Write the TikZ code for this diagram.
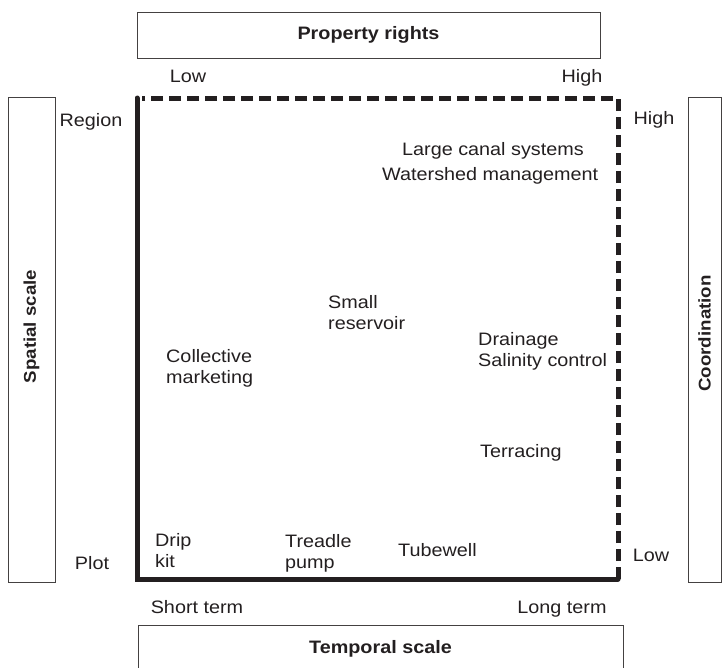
\documentclass[tikz,border=0pt]{standalone}
\usepackage{fontspec}
\setmainfont[FakeStretch=1.1]{Liberation Sans}
\definecolor{ink}{HTML}{231F20}
\begin{document}
\begin{tikzpicture}[x=1pt,y=-1pt,
  lab/.style={inner sep=0pt, text=ink, font=\fontsize{18}{21}\selectfont, align=left},
  titlebox/.style={draw=ink!85, line width=0.9pt, inner sep=0pt, text=ink,
     font=\bfseries\fontsize{18}{21}\selectfont},
  sidebox/.style={draw=ink!85, line width=0.9pt, inner sep=0pt},
  sidelab/.style={inner sep=0pt, text=ink, rotate=90, font=\bfseries\fontsize{17}{20}\selectfont},
  frame/.style={line width=5pt, draw=ink},
  dashframe/.style={line width=5pt, draw=ink, dash pattern=on 12pt off 6pt}]
\useasboundingbox (0,0) rectangle (727,667);
\clip (0,0) rectangle (727,667);
% title boxes
\node[titlebox, minimum width=463pt, minimum height=46pt] (prop) at (368.5,35) {Property rights};
\node[titlebox, minimum width=485pt, minimum height=48pt] (temp) at (380.5,649) {Temporal scale};
\node[sidebox, minimum width=47pt, minimum height=485pt] (spat) at (31.5,339.5) {};
\node[sidebox, minimum width=33pt, minimum height=485pt] (coord) at (704.5,339.5) {};
\node[sidelab] (spatlab) at ([yshift=13pt]spat.center) {Spatial scale};
\node[sidelab] (coordlab) at ([yshift=6pt]coord.center) {Coordination};
% frame corners
\coordinate (tl) at (137,98);
\coordinate (bl) at (137,579);
\coordinate (br) at (618,579);
\coordinate (tr) at (618,98);
\coordinate (tls) at (142,98);
\draw[frame, line cap=round] (tl) -- (bl) -- (br);
\draw[dashframe] (br) -- (tr) -- (tls);
% axis labels
\node[lab, anchor=base] (plow) at (188,82) {Low};
\node[lab, anchor=base] (phigh) at (582,82) {High};
\node[lab, anchor=base] (region) at (91,126) {Region};
\node[lab, anchor=base] (plot) at (92,569) {Plot};
\node[lab, anchor=base] (chigh) at (654,124) {High};
\node[lab, anchor=base] (clow) at (651,561) {Low};
\node[lab, anchor=base] (short) at (197,613) {Short term};
\node[lab, anchor=base] (long) at (562,613) {Long term};
% items
\node[lab, anchor=north west] (canal) at (402,142) {Large canal systems};
\node[lab, anchor=north west] (water) at (382,167) {Watershed management};
\node[lab, anchor=north west] (small) at (328,295) {Small\\reservoir};
\node[lab, anchor=north west] (drain) at (478,332) {Drainage\\Salinity control};
\node[lab, anchor=north west] (coll) at (166,349) {Collective\\marketing};
\node[lab, anchor=north west] (terr) at (480,444) {Terracing};
\node[lab, anchor=north west] (drip) at (155,533) {Drip\\kit};
\node[lab, anchor=north west] (tread) at (285,534) {Treadle\\pump};
\node[lab, anchor=north west] (tube) at (398,543) {Tubewell};
\end{tikzpicture}
\end{document}
